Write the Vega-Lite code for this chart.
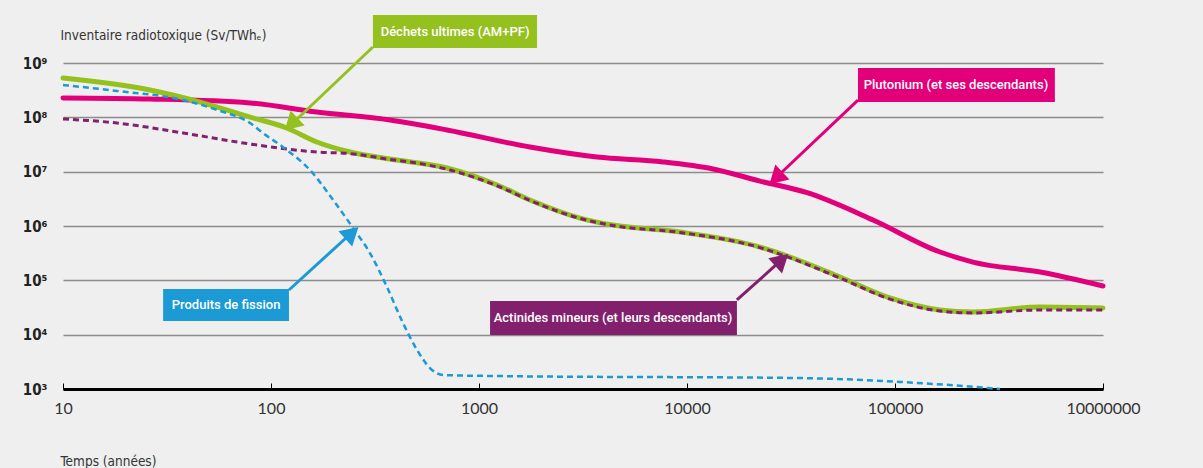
{
  "$schema": "https://vega.github.io/schema/vega-lite/v6.json",
  "width": 1040,
  "height": 326,
  "autosize": {"type": "none"},
  "padding": {"left": 63, "top": 63, "right": 100, "bottom": 79},
  "background": "#efefef",
  "config": {"view": {"stroke": null}},
  "datasets": {
    "curves": [
      {"series": "Plutonium (et ses descendants)", "t": 10, "v": 2.27e8},
      {"series": "Plutonium (et ses descendants)", "t": 26.2, "v": 2.17e8},
      {"series": "Plutonium (et ses descendants)", "t": 79.3, "v": 1.84e8},
      {"series": "Plutonium (et ses descendants)", "t": 166, "v": 1.25e8},
      {"series": "Plutonium (et ses descendants)", "t": 373, "v": 8.93e7},
      {"series": "Plutonium (et ses descendants)", "t": 702, "v": 5.85e7},
      {"series": "Plutonium (et ses descendants)", "t": 1758, "v": 2.84e7},
      {"series": "Plutonium (et ses descendants)", "t": 3690, "v": 1.86e7},
      {"series": "Plutonium (et ses descendants)", "t": 7670, "v": 1.51e7},
      {"series": "Plutonium (et ses descendants)", "t": 13330, "v": 1.12e7},
      {"series": "Plutonium (et ses descendants)", "t": 22440, "v": 6.7e6},
      {"series": "Plutonium (et ses descendants)", "t": 37760, "v": 4.1e6},
      {"series": "Plutonium (et ses descendants)", "t": 78390, "v": 1.29e6},
      {"series": "Plutonium (et ses descendants)", "t": 164600, "v": 3.32e5},
      {"series": "Plutonium (et ses descendants)", "t": 237100, "v": 2.17e5},
      {"series": "Plutonium (et ses descendants)", "t": 498000, "v": 1.42e5},
      {"series": "Plutonium (et ses descendants)", "t": 1000000, "v": 7.87e4},

      {"series": "Déchets ultimes (AM+PF)", "t": 10, "v": 5.3e8},
      {"series": "Déchets ultimes (AM+PF)", "t": 26.2, "v": 3.18e8},
      {"series": "Déchets ultimes (AM+PF)", "t": 45.6, "v": 1.91e8},
      {"series": "Déchets ultimes (AM+PF)", "t": 79.3, "v": 1.01e8},
      {"series": "Déchets ultimes (AM+PF)", "t": 119, "v": 6.37e7},
      {"series": "Déchets ultimes (AM+PF)", "t": 166, "v": 3.52e7},
      {"series": "Déchets ultimes (AM+PF)", "t": 240, "v": 2.3e7},
      {"series": "Déchets ultimes (AM+PF)", "t": 373, "v": 1.71e7},
      {"series": "Déchets ultimes (AM+PF)", "t": 702, "v": 1.17e7},
      {"series": "Déchets ultimes (AM+PF)", "t": 1222, "v": 5.68e6},
      {"series": "Déchets ultimes (AM+PF)", "t": 1758, "v": 3.01e6},
      {"series": "Déchets ultimes (AM+PF)", "t": 3060, "v": 1.4e6},
      {"series": "Déchets ultimes (AM+PF)", "t": 4406, "v": 1.04e6},
      {"series": "Déchets ultimes (AM+PF)", "t": 9250, "v": 7.75e5},
      {"series": "Déchets ultimes (AM+PF)", "t": 22440, "v": 4.1e5},
      {"series": "Déchets ultimes (AM+PF)", "t": 31270, "v": 2.69e5},
      {"series": "Déchets ultimes (AM+PF)", "t": 54430, "v": 1.15e5},
      {"series": "Déchets ultimes (AM+PF)", "t": 94660, "v": 4.73e4},
      {"series": "Déchets ultimes (AM+PF)", "t": 164600, "v": 2.84e4},
      {"series": "Déchets ultimes (AM+PF)", "t": 237100, "v": 2.61e4},
      {"series": "Déchets ultimes (AM+PF)", "t": 498000, "v": 3.23e4},
      {"series": "Déchets ultimes (AM+PF)", "t": 1000000, "v": 3.1e4},

      {"series": "Actinides mineurs (et leurs descendants)", "t": 10, "v": 9.31e7},
      {"series": "Actinides mineurs (et leurs descendants)", "t": 18.2, "v": 7.87e7},
      {"series": "Actinides mineurs (et leurs descendants)", "t": 37.8, "v": 5.15e7},
      {"series": "Actinides mineurs (et leurs descendants)", "t": 79.3, "v": 3.23e7},
      {"series": "Actinides mineurs (et leurs descendants)", "t": 166, "v": 2.3e7},
      {"series": "Actinides mineurs (et leurs descendants)", "t": 240, "v": 2.15e7},
      {"series": "Actinides mineurs (et leurs descendants)", "t": 373, "v": 1.68e7},
      {"series": "Actinides mineurs (et leurs descendants)", "t": 504, "v": 1.44e7},
      {"series": "Actinides mineurs (et leurs descendants)", "t": 726, "v": 1.07e7},
      {"series": "Actinides mineurs (et leurs descendants)", "t": 1262, "v": 5.22e6},
      {"series": "Actinides mineurs (et leurs descendants)", "t": 1758, "v": 2.95e6},
      {"series": "Actinides mineurs (et leurs descendants)", "t": 3060, "v": 1.38e6},
      {"series": "Actinides mineurs (et leurs descendants)", "t": 4406, "v": 1.02e6},
      {"series": "Actinides mineurs (et leurs descendants)", "t": 9250, "v": 7.6e5},
      {"series": "Actinides mineurs (et leurs descendants)", "t": 22440, "v": 4.0e5},
      {"series": "Actinides mineurs (et leurs descendants)", "t": 31270, "v": 2.6e5},
      {"series": "Actinides mineurs (et leurs descendants)", "t": 54430, "v": 1.1e5},
      {"series": "Actinides mineurs (et leurs descendants)", "t": 94660, "v": 4.5e4},
      {"series": "Actinides mineurs (et leurs descendants)", "t": 164600, "v": 2.72e4},
      {"series": "Actinides mineurs (et leurs descendants)", "t": 237100, "v": 2.51e4},
      {"series": "Actinides mineurs (et leurs descendants)", "t": 498000, "v": 2.84e4},
      {"series": "Actinides mineurs (et leurs descendants)", "t": 1000000, "v": 2.84e4},

      {"series": "Produits de fission", "t": 10, "v": 3.94e8},
      {"series": "Produits de fission", "t": 18.2, "v": 3.06e8},
      {"series": "Produits de fission", "t": 37.8, "v": 2.08e8},
      {"series": "Produits de fission", "t": 55, "v": 1.37e8},
      {"series": "Produits de fission", "t": 79.3, "v": 7.87e7},
      {"series": "Produits de fission", "t": 91.5, "v": 5.15e7},
      {"series": "Produits de fission", "t": 114, "v": 2.84e7},
      {"series": "Produits de fission", "t": 154, "v": 1.07e7},
      {"series": "Produits de fission", "t": 199, "v": 3.01e6},
      {"series": "Produits de fission", "t": 248, "v": 9.18e5},
      {"series": "Produits de fission", "t": 299, "v": 3.18e5},
      {"series": "Produits de fission", "t": 361, "v": 7.54e4},
      {"series": "Produits de fission", "t": 431, "v": 1.64e4},
      {"series": "Produits de fission", "t": 504, "v": 5.21e3},
      {"series": "Produits de fission", "t": 581, "v": 2.43e3},
      {"series": "Produits de fission", "t": 671, "v": 1.81e3},
      {"series": "Produits de fission", "t": 1262, "v": 1.73e3},
      {"series": "Produits de fission", "t": 34910, "v": 1.59e3},
      {"series": "Produits de fission", "t": 105700, "v": 1.35e3},
      {"series": "Produits de fission", "t": 183800, "v": 1.18e3},
      {"series": "Produits de fission", "t": 319800, "v": 1.0e3}
    ],
    "boxes": [
      {"series": "Déchets ultimes (AM+PF)", "t": 309, "t2": 1901, "v": 7.64e9, "v2": 1.89e9, "tc": 767, "vc": 3.73e9},
      {"series": "Plutonium (et ses descendants)", "t": 66370, "t2": 587000, "v": 8.09e8, "v2": 1.91e8, "tc": 196400, "vc": 3.94e8},
      {"series": "Produits de fission", "t": 30.3, "t2": 122, "v": 6.92e4, "v2": 1.78e4, "tc": 60.8, "vc": 3.51e4},
      {"series": "Actinides mineurs (et leurs descendants)", "t": 1130, "t2": 17380, "v": 4.16e4, "v2": 9.84e3, "tc": 4406, "vc": 2.02e4}
    ],
    "arrows": [
      {"series": "Déchets ultimes (AM+PF)", "t": 309, "v": 1.97e9, "t2": 132, "v2": 8.93e7, "th": 128, "vh": 8.2e7},
      {"series": "Plutonium (et ses descendants)", "t": 66370, "v": 2.08e8, "t2": 28310, "v2": 9.44e6, "th": 27400, "vh": 8.31e6},
      {"series": "Produits de fission", "t": 122, "v": 6.64e4, "t2": 232, "v2": 6.27e5, "th": 239, "vh": 6.86e5},
      {"series": "Actinides mineurs (et leurs descendants)", "t": 17380, "v": 4.35e4, "t2": 27100, "v2": 2.0e5, "th": 27860, "vh": 2.19e5}
    ]
  },
  "layer": [
    {
      "data": {"name": "curves"},
      "transform": [{"filter": "datum.series == 'Plutonium (et ses descendants)'"}],
      "mark": {"type": "line", "strokeWidth": 5, "interpolate": "monotone", "strokeCap": "round"},
      "encoding": {
        "x": {
          "field": "t", "type": "quantitative",
          "scale": {"type": "log", "domain": [10, 1000000], "nice": false},
          "axis": {
            "values": [10, 100, 1000, 10000, 100000, 1000000],
            "labelExpr": "datum.value >= 1000000 ? '10000000' : format(datum.value, 'd')",
            "grid": false,
            "domainColor": "#000000", "domainWidth": 3,
            "tickColor": "#000000", "tickWidth": 1, "tickSize": -6,
            "labelPadding": 17, "labelFont": "Lato", "labelFontSize": 16, "labelColor": "#333333",
            "labelFlush": false, "labelOverlap": false,
            "title": "Temps (années)", "titleFont": "DejaVu Sans Condensed",
            "titleFontSize": 13.5, "titleFontWeight": "normal", "titleColor": "#333333",
            "titleX": -3, "titleY": 72, "titleAlign": "left", "titleBaseline": "middle"
          }
        },
        "y": {
          "field": "v", "type": "quantitative",
          "scale": {"type": "log", "domain": [1000, 1000000000], "nice": false},
          "axis": {
            "values": [1000, 10000, 100000, 1000000, 10000000, 100000000, 1000000000],
            "labelExpr": "'10' + ['³','⁴','⁵','⁶','⁷','⁸','⁹'][round(log(datum.value) / LN10) - 3]",
            "grid": true, "gridColor": "#8c8c8c", "gridWidth": 1.3,
            "domain": false, "ticks": false,
            "labelPadding": 16, "labelFont": "DejaVu Sans Condensed", "labelFontSize": 15, "labelFontWeight": "bold", "labelColor": "#222222",
            "labelBaseline": "middle",
            "title": "Inventaire radiotoxique (Sv/TWhₑ)", "titleFont": "DejaVu Sans Condensed",
            "titleFontSize": 13.5, "titleFontWeight": "normal", "titleColor": "#333333",
            "titleAngle": 0, "titleX": -3, "titleY": -28, "titleAlign": "left", "titleBaseline": "middle"
          }
        },
        "color": {
          "field": "series", "type": "nominal", "legend": null,
          "scale": {
            "domain": ["Plutonium (et ses descendants)", "Déchets ultimes (AM+PF)", "Actinides mineurs (et leurs descendants)", "Produits de fission"],
            "range": ["#e2007a", "#95c11f", "#82206e", "#1b9ad6"]
          }
        }
      }
    },
    {
      "data": {"name": "curves"},
      "transform": [{"filter": "datum.series == 'Déchets ultimes (AM+PF)'"}],
      "mark": {"type": "line", "strokeWidth": 5, "interpolate": "monotone", "strokeCap": "round"},
      "encoding": {
        "x": {"field": "t", "type": "quantitative"},
        "y": {"field": "v", "type": "quantitative"},
        "color": {"field": "series", "type": "nominal", "legend": null}
      }
    },
    {
      "data": {"name": "curves"},
      "transform": [{"filter": "datum.series == 'Actinides mineurs (et leurs descendants)'"}],
      "mark": {"type": "line", "strokeWidth": 3, "strokeDash": [6, 4], "interpolate": "monotone"},
      "encoding": {
        "x": {"field": "t", "type": "quantitative"},
        "y": {"field": "v", "type": "quantitative"},
        "color": {"field": "series", "type": "nominal", "legend": null}
      }
    },
    {
      "data": {"name": "curves"},
      "transform": [{"filter": "datum.series == 'Produits de fission'"}],
      "mark": {"type": "line", "strokeWidth": 2.5, "strokeDash": [6, 4], "interpolate": "monotone"},
      "encoding": {
        "x": {"field": "t", "type": "quantitative"},
        "y": {"field": "v", "type": "quantitative"},
        "color": {"field": "series", "type": "nominal", "legend": null}
      }
    },
    {
      "data": {"name": "arrows"},
      "mark": {"type": "rule", "strokeWidth": 3},
      "encoding": {
        "x": {"field": "t", "type": "quantitative"},
        "y": {"field": "v", "type": "quantitative"},
        "x2": {"field": "t2"},
        "y2": {"field": "v2"},
        "color": {"field": "series", "type": "nominal", "legend": null}
      }
    },
    {
      "data": {"name": "arrows"},
      "transform": [{"filter": "datum.series == 'Déchets ultimes (AM+PF)' || datum.series == 'Plutonium (et ses descendants)'"}],
      "mark": {"type": "point", "shape": "triangle", "filled": true, "opacity": 1, "size": 420, "angle": 226.5},
      "encoding": {
        "x": {"field": "th", "type": "quantitative"},
        "y": {"field": "vh", "type": "quantitative"},
        "color": {"field": "series", "type": "nominal", "legend": null}
      }
    },
    {
      "data": {"name": "arrows"},
      "transform": [{"filter": "datum.series == 'Produits de fission' || datum.series == 'Actinides mineurs (et leurs descendants)'"}],
      "mark": {"type": "point", "shape": "triangle", "filled": true, "opacity": 1, "size": 420, "angle": 47.9},
      "encoding": {
        "x": {"field": "th", "type": "quantitative"},
        "y": {"field": "vh", "type": "quantitative"},
        "color": {"field": "series", "type": "nominal", "legend": null}
      }
    },
    {
      "data": {"name": "boxes"},
      "mark": {"type": "rect"},
      "encoding": {
        "x": {"field": "t", "type": "quantitative"},
        "x2": {"field": "t2"},
        "y": {"field": "v", "type": "quantitative"},
        "y2": {"field": "v2"},
        "color": {"field": "series", "type": "nominal", "legend": null}
      }
    },
    {
      "data": {"name": "boxes"},
      "mark": {"type": "text", "color": "#ffffff", "font": "Roboto", "fontSize": 13, "fontWeight": 500, "align": "center", "baseline": "middle"},
      "encoding": {
        "x": {"field": "tc", "type": "quantitative"},
        "y": {"field": "vc", "type": "quantitative"},
        "text": {"field": "series"}
      }
    }
  ]
}
